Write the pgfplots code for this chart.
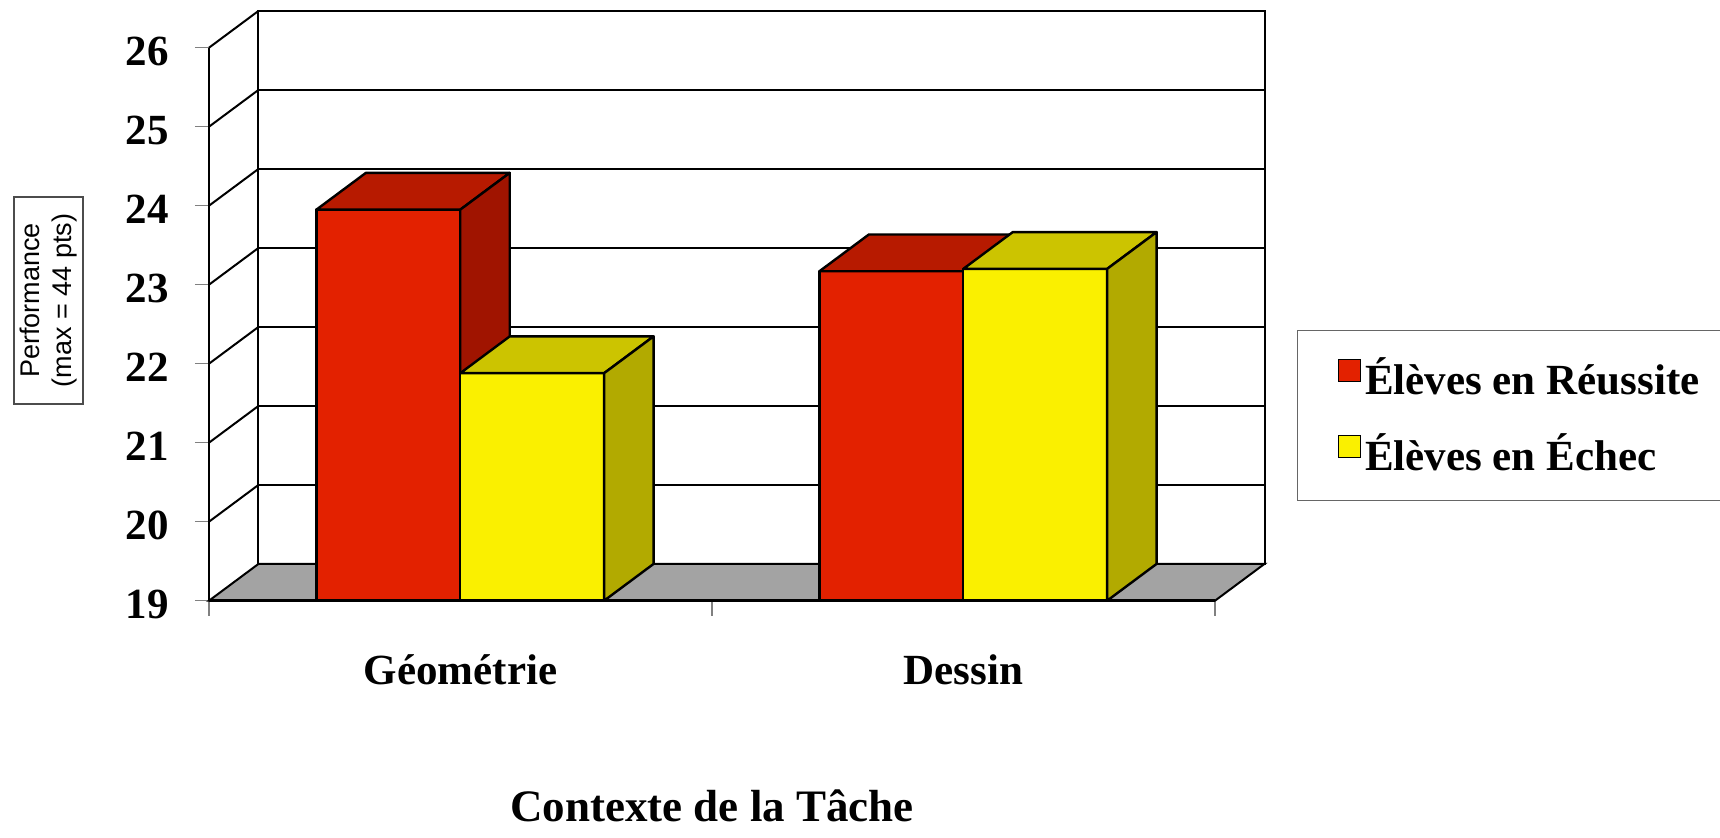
\documentclass[border=0pt]{standalone}
\usepackage{fontspec}
\setmainfont{Liberation Serif}
\setsansfont{Liberation Sans}
\usepackage{pgfplots}
\pgfplotsset{compat=1.18}
\definecolor{redfront}{RGB}{227,33,0}
\definecolor{redtop}{RGB}{183,26,0}
\definecolor{redside}{RGB}{160,20,0}
\definecolor{yelfront}{RGB}{250,240,0}
\definecolor{yeltop}{RGB}{204,196,0}
\definecolor{yelside}{RGB}{178,170,0}
\definecolor{floorgray}{RGB}{163,163,163}
\pgfplotsset{
  wall/.style={forget plot, draw=black, line width=1pt},
  face/.style={forget plot, draw=black, line width=1.2pt, line join=round},
}
\begin{document}
\begin{tikzpicture}
\path[use as bounding box] (0,0) rectangle (860pt,418.5pt);
\begin{axis}[
  at={(104.5pt,118.15pt)}, anchor=south west,
  scale only axis, width=503pt, height=276.5pt,
  xmin=0, xmax=2, ymin=19, ymax=26, clip=false,
  axis x line*=bottom, axis y line*=left,
  axis line style={black, line width=1.3pt},
  ytick={19,20,...,26},
  xtick={0.5,1.5}, xticklabels={Géométrie,Dessin},
  minor xtick={0,1,2},
  tick align=outside, major tick length=7pt, minor tick length=7.5pt,
  tick style={gray, line width=0.7pt},
  every major x tick/.append style={draw=none},
  /pgf/number format/assume math mode=true,
  ticklabel style={font=\bfseries\fontsize{21.5}{24}\selectfont},
  yticklabel style={xshift=-9.7pt, yshift=-2pt},
  xticklabel style={anchor=base, yshift=-35pt},
  xlabel={Contexte de la Tâche},
  xlabel style={at={(axis description cs:0.5,0)}, anchor=base, yshift=-110.5pt,
    font=\bfseries\fontsize{22.5}{26}\selectfont},
  ylabel={Performance\\(max = 44 pts)},
  ylabel style={at={(axis description cs:-0.1595,0.543)}, anchor=center,
    align=center, draw=black!70, line width=0.7pt,
    font=\sffamily\fontsize{13.5}{16}\selectfont,
    minimum width=103.5pt, minimum height=34.5pt, inner sep=1pt},
  legend style={at={(rel axis cs:1.0812,0.3349)}, anchor=west,
    draw=black!60, line width=0.8pt, inner xsep=11pt, inner ysep=11.5pt,
    row sep=14pt, font=\bfseries\fontsize{21.5}{24}\selectfont},
  legend cell align=left,
  legend image code/.code={\path (-9pt,0pt);
    \draw[#1, draw=black, line width=0.8pt] (0pt,-2pt) rectangle (11pt,9pt);},
]
% back wall and grid
\addplot[wall, fill=white] coordinates {(0.0984,19.466) (2.0984,19.466) (2.0984,26.466) (0.0984,26.466)} -- cycle;
\addplot[wall] coordinates {(0.0984,20.466) (2.0984,20.466)};
\addplot[wall] coordinates {(0.0984,21.466) (2.0984,21.466)};
\addplot[wall] coordinates {(0.0984,22.466) (2.0984,22.466)};
\addplot[wall] coordinates {(0.0984,23.466) (2.0984,23.466)};
\addplot[wall] coordinates {(0.0984,24.466) (2.0984,24.466)};
\addplot[wall] coordinates {(0.0984,25.466) (2.0984,25.466)};
% left wall
\addplot[wall] coordinates {(0,20) (0.0984,20.466)};
\addplot[wall] coordinates {(0,21) (0.0984,21.466)};
\addplot[wall] coordinates {(0,22) (0.0984,22.466)};
\addplot[wall] coordinates {(0,23) (0.0984,23.466)};
\addplot[wall] coordinates {(0,24) (0.0984,24.466)};
\addplot[wall] coordinates {(0,25) (0.0984,25.466)};
\addplot[wall] coordinates {(0,26) (0.0984,26.466)};
% floor
\addplot[wall, fill=floorgray] coordinates {(0,19) (2,19) (2.0984,19.466) (0.0984,19.466)} -- cycle;
% Geometrie - Reussite (23.95)
\addplot[face, fill=redfront] coordinates {(0.2135,19) (0.2135,23.95) (0.4995,23.95) (0.4995,19)} -- cycle;
\addplot[face, fill=redtop] coordinates {(0.2135,23.95) (0.4995,23.95) (0.5979,24.416) (0.3119,24.416)} -- cycle;
\addplot[face, fill=redside] coordinates {(0.4995,19) (0.5979,19.466) (0.5979,24.416) (0.4995,23.95)} -- cycle;
% Geometrie - Echec (21.88)
\addplot[face, fill=yelfront] coordinates {(0.4995,19) (0.4995,21.88) (0.7855,21.88) (0.7855,19)} -- cycle;
\addplot[face, fill=yeltop] coordinates {(0.4995,21.88) (0.7855,21.88) (0.8839,22.346) (0.5979,22.346)} -- cycle;
\addplot[face, fill=yelside] coordinates {(0.7855,19) (0.8839,19.466) (0.8839,22.346) (0.7855,21.88)} -- cycle;
% Dessin - Reussite (23.17)
\addplot[face, fill=redfront] coordinates {(1.2135,19) (1.2135,23.17) (1.4995,23.17) (1.4995,19)} -- cycle;
\addplot[face, fill=redtop] coordinates {(1.2135,23.17) (1.4995,23.17) (1.5979,23.636) (1.3119,23.636)} -- cycle;
\addplot[face, fill=redside] coordinates {(1.4995,19) (1.5979,19.466) (1.5979,23.636) (1.4995,23.17)} -- cycle;
% Dessin - Echec (23.20)
\addplot[face, fill=yelfront] coordinates {(1.4995,19) (1.4995,23.20) (1.7855,23.20) (1.7855,19)} -- cycle;
\addplot[face, fill=yeltop] coordinates {(1.4995,23.20) (1.7855,23.20) (1.8839,23.666) (1.5979,23.666)} -- cycle;
\addplot[face, fill=yelside] coordinates {(1.7855,19) (1.8839,19.466) (1.8839,23.666) (1.7855,23.20)} -- cycle;
% front floor edge
\addplot[forget plot, black, line width=1.5pt] coordinates {(0,19) (2,19)};
\addlegendimage{fill=redfront}
\addlegendentry{Élèves en Réussite}
\addlegendimage{fill=yelfront}
\addlegendentry{Élèves en Échec}
\end{axis}
\end{tikzpicture}
\end{document}
